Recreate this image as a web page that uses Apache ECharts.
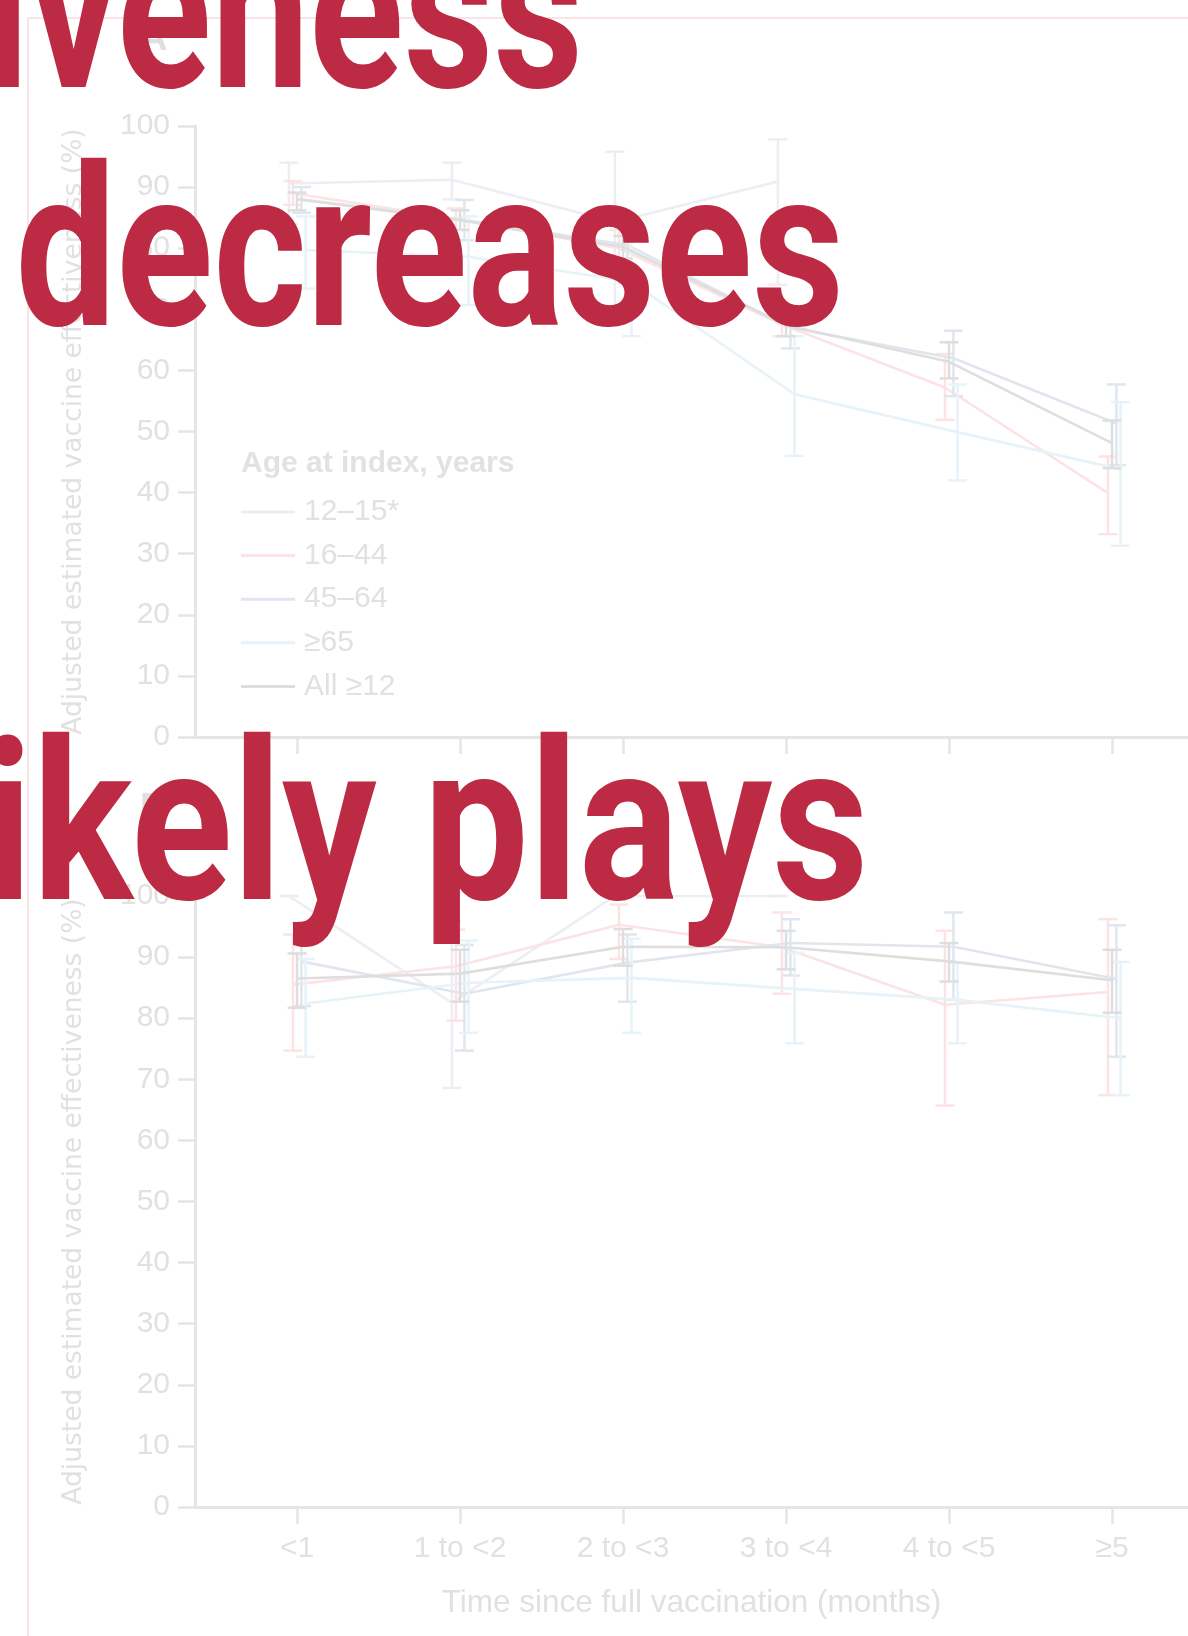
<!DOCTYPE html>
<html>
<head>
<meta charset="utf-8">
<script src="https://cdn.jsdelivr.net/npm/echarts@6/dist/echarts.min.js"></script>
<style>
  html, body { margin: 0; padding: 0; background: #ffffff; }
  #chart { width: 1188px; height: 1636px; }
</style>
</head>
<body>
<div id="chart"></div>
<script>
// ---- Data -------------------------------------------------------------
const categories = ['<1', '1 to <2', '2 to <3', '3 to <4', '4 to <5', '≥5'];
const groups = ['12–15*', '16–44', '45–64', '≥65', 'All ≥12'];

// Panel A (SARS-CoV-2 infections): estimate, lower and upper 95% CI
const a1215   = [90.6, 91.2, 84.3, 90.9, null, null];
const a1215Lo = [84.0, 88.0, 68.0, 74.0, null, null];
const a1215Hi = [94.0, 94.0, 95.8, 97.8, null, null];

const a1644   = [89.0, 84.8, 80.0, 67.5, 57.2, 39.9];
const a1644Lo = [87.1, 83.0, 77.0, 65.6, 51.9, 33.2];
const a1644Hi = [91.0, 86.5, 83.0, 69.8, 62.7, 45.9];

const a4564   = [88.0, 84.6, 80.5, 67.0, 62.0, 51.3];
const a4564Lo = [85.8, 81.3, 74.4, 63.6, 55.8, 44.5];
const a4564Hi = [90.0, 87.9, 85.0, 70.5, 66.5, 57.7];

const a65     = [79.7, 78.6, 74.5, 56.1, 49.9, 43.8];
const a65Lo   = [73.4, 70.7, 65.6, 46.0, 42.0, 31.3];
const a65Hi   = [85.2, 85.2, 81.3, 65.6, 57.7, 54.8];

const aAll    = [88.0, 84.6, 80.2, 67.4, 61.4, 48.1];
const aAllLo  = [86.2, 83.0, 78.3, 65.6, 58.7, 44.0];
const aAllHi  = [89.1, 86.2, 82.0, 69.3, 64.6, 51.8];

// Panel B (COVID-19-related hospital admissions)
const b1215   = [100, 82.5, 100, 100, null, null];
const b1215Lo = [100, 68.6, 100, 100, null, null];
const b1215Hi = [100, 96.0, 100, 100, null, null];

const b1644   = [85.5, 88.5, 95.3, 91.6, 82.2, 84.3];
const b1644Lo = [74.7, 79.6, 89.7, 84.0, 65.7, 67.4];
const b1644Hi = [93.7, 94.5, 98.6, 97.3, 94.3, 96.2];

const b4564   = [89.3, 84.0, 89.1, 92.3, 91.7, 86.4];
const b4564Lo = [82.0, 74.7, 82.7, 87.0, 83.0, 73.7];
const b4564Hi = [95.6, 92.0, 93.7, 96.2, 97.3, 95.2];

const b65     = [82.4, 85.8, 86.6, 84.8, 83.0, 80.0];
const b65Lo   = [73.7, 77.6, 77.6, 75.9, 75.9, 67.4];
const b65Hi   = [89.7, 92.7, 93.0, 90.7, 89.1, 89.2];

const bAll    = [86.5, 87.3, 91.7, 91.6, 89.3, 86.2];
const bAllLo  = [81.7, 82.7, 88.6, 88.0, 86.0, 80.9];
const bAllHi  = [90.6, 91.2, 94.6, 94.3, 92.3, 91.2];

const yAxisTitle = 'Adjusted estimated vaccine effectiveness (%)';
const xAxisTitle = 'Time since full vaccination (months)';
const legendTitle = 'Age at index, years';
const headlineLines = ['iveness', 'decreases', 'ikely plays'];

// ---- Styling ------------------------------------------------------------
const COLORS = ['#eeedf4', '#fde3e3', '#e0e6ee', '#e7f3f8', '#dedede'];
const DODGE = [-0.05, -0.025, 0.027, 0.052, 0];   // horizontal offset per age group
const AXIS = '#e5e5e5';
const TXT = '#e1e1e1';
const RED = '#bd2a43';
const X_MIN = -0.626, X_MAX = 5.466;
const CAP = 9.5;

const panels = [
  { top: 126, vals: [a1215, a1644, a4564, a65, aAll], lo: [a1215Lo, a1644Lo, a4564Lo, a65Lo, aAllLo], hi: [a1215Hi, a1644Hi, a4564Hi, a65Hi, aAllHi] },
  { top: 896, vals: [b1215, b1644, b4564, b65, bAll], lo: [b1215Lo, b1644Lo, b4564Lo, b65Lo, bAllLo], hi: [b1215Hi, b1644Hi, b4564Hi, b65Hi, bAllHi] }
];
const PANEL_H = 611;
const catIdx = categories.map((c, i) => i);

const grids = panels.map(p => ({ left: 195, right: 0, top: p.top, height: PANEL_H }));

const xAxes = panels.map((p, k) => ({
  type: 'value', gridIndex: k, min: X_MIN, max: X_MAX,
  axisLine: { show: true, onZero: false, lineStyle: { color: AXIS, width: 3 } },
  axisTick: { show: true, customValues: catIdx, length: 17, lineStyle: { color: AXIS, width: 2.5 } },
  axisLabel: k === 1 ? {
    show: true, customValues: catIdx, formatter: v => categories[Math.round(v)],
    fontFamily: 'Liberation Sans', fontSize: 30, color: TXT, margin: 27
  } : { show: false },
  splitLine: { show: false },
  name: k === 1 ? xAxisTitle : '',
  nameLocation: 'middle', nameGap: 80,
  nameTextStyle: { fontFamily: 'Liberation Sans', fontSize: 31.5, color: TXT }
}));

const yAxes = panels.map((p, k) => ({
  type: 'value', gridIndex: k, min: 0, max: 100, interval: 10,
  axisLine: { show: true, onZero: false, lineStyle: { color: AXIS, width: 3 } },
  axisTick: { show: true, length: 17, lineStyle: { color: AXIS, width: 2.5 } },
  axisLabel: { fontFamily: 'Liberation Sans', fontSize: 30, color: TXT, margin: 25 },
  splitLine: { show: false },
  name: yAxisTitle, nameLocation: 'middle', nameRotate: 90, nameGap: 107,
  nameTextStyle: { fontFamily: 'DejaVu Sans', fontSize: 26.5, color: TXT }
}));

function errorBarRender(color) {
  return function (params, api) {
    const x = api.value(0), lo = api.value(1), hi = api.value(2);
    const pLo = api.coord([x, lo]);
    const pHi = api.coord([x, hi]);
    const st = { stroke: color, lineWidth: 2.5, fill: null };
    return {
      type: 'group',
      children: [
        { type: 'line', shape: { x1: pLo[0], y1: pLo[1], x2: pHi[0], y2: pHi[1] }, style: st },
        { type: 'line', shape: { x1: pHi[0] - CAP, y1: pHi[1], x2: pHi[0] + CAP, y2: pHi[1] }, style: st },
        { type: 'line', shape: { x1: pLo[0] - CAP, y1: pLo[1], x2: pLo[0] + CAP, y2: pLo[1] }, style: st }
      ]
    };
  };
}

const series = [];
panels.forEach((p, k) => {
  groups.forEach((g, s) => {
    const color = COLORS[s];
    const line = [], bars = [];
    p.vals[s].forEach((v, i) => {
      if (v == null) return;
      const x = i + DODGE[s];
      line.push([x, v]);
      bars.push([x, p.lo[s][i], p.hi[s][i]]);
    });
    series.push({
      type: 'custom', name: g, xAxisIndex: k, yAxisIndex: k, silent: true,
      itemStyle: { color }, renderItem: errorBarRender(color),
      encode: { x: 0, y: [1, 2] }, data: bars, z: 2 + s
    });
    series.push({
      type: 'line', name: g, xAxisIndex: k, yAxisIndex: k, silent: true,
      data: line, symbol: 'none', color,
      itemStyle: { color }, lineStyle: { color, width: 2.6 }, z: 2 + s
    });
  });
});

// ---- Headline text, squeezed horizontally into its line box -------------
const HEAD_FONT_SIZE = 222;
const HEAD_FONT = 'bold ' + HEAD_FONT_SIZE + 'px Roboto';
const headBoxes = [
  { left: -8, right: 577, base: 87 },
  { left: 21, right: 838, base: 325 },
  { left: -8, right: 862, base: 899 }
];
const mctx = document.createElement('canvas').getContext('2d');
mctx.font = HEAD_FONT;
const headGraphics = headlineLines.map((t, i) => {
  const b = headBoxes[i];
  mctx.textBaseline = 'alphabetic';
  const mA = mctx.measureText(t);
  mctx.textBaseline = 'middle';
  const mM = mctx.measureText(t);
  const midAboveBase = mA.actualBoundingBoxAscent - mM.actualBoundingBoxAscent;
  const ink = mA.actualBoundingBoxLeft + mA.actualBoundingBoxRight;
  const sx = (b.right - b.left) / ink;
  return {
    type: 'text', z: 100, zlevel: 1,
    x: b.left + mA.actualBoundingBoxLeft * sx, y: b.base - midAboveBase, scaleX: sx,
    style: { text: t, font: HEAD_FONT, fill: RED, align: 'left', verticalAlign: 'middle',
             textAlign: 'left', textVerticalAlign: 'middle' }
  };
});

const option = {
  animation: false,
  backgroundColor: '#ffffff',
  grid: grids,
  xAxis: xAxes,
  yAxis: yAxes,
  legend: {
    data: groups, orient: 'vertical', left: 241, top: 497,
    itemWidth: 54, itemHeight: 3, itemGap: 13.6, icon: 'rect', padding: 0,
    selectedMode: false,
    textStyle: { fontFamily: 'Liberation Sans', fontSize: 30, color: TXT, lineHeight: 30, padding: [0, 0, 0, 4] }
  },
  series,
  graphic: [
    // page frame
    { type: 'line', shape: { x1: 28, y1: 18, x2: 28, y2: 1636 }, style: { stroke: '#fae3e7', lineWidth: 2 }, z: 0 },
    { type: 'line', shape: { x1: 28, y1: 18, x2: 1188, y2: 18 }, style: { stroke: '#fae3e7', lineWidth: 2 }, z: 0 },
    // panel letters
    { type: 'text', x: 140, y: 40, z: 1, style: { text: 'A', font: 'bold 38px Liberation Sans', fill: '#e0e0e0', textVerticalAlign: 'middle', verticalAlign: 'middle' } },
    { type: 'text', x: 140, y: 810, z: 1, style: { text: 'B', font: 'bold 38px Liberation Sans', fill: '#e0e0e0', textVerticalAlign: 'middle', verticalAlign: 'middle' } },
    // legend heading
    { type: 'text', x: 241, y: 464, z: 1, style: { text: legendTitle, font: 'bold 30px Liberation Sans', fill: '#e2e2e2', textVerticalAlign: 'middle', verticalAlign: 'middle' } }
  ].concat(headGraphics)
};

const chart = echarts.init(document.getElementById('chart'), null, { renderer: 'canvas' });
chart.setOption(option);
</script>
</body>
</html>
